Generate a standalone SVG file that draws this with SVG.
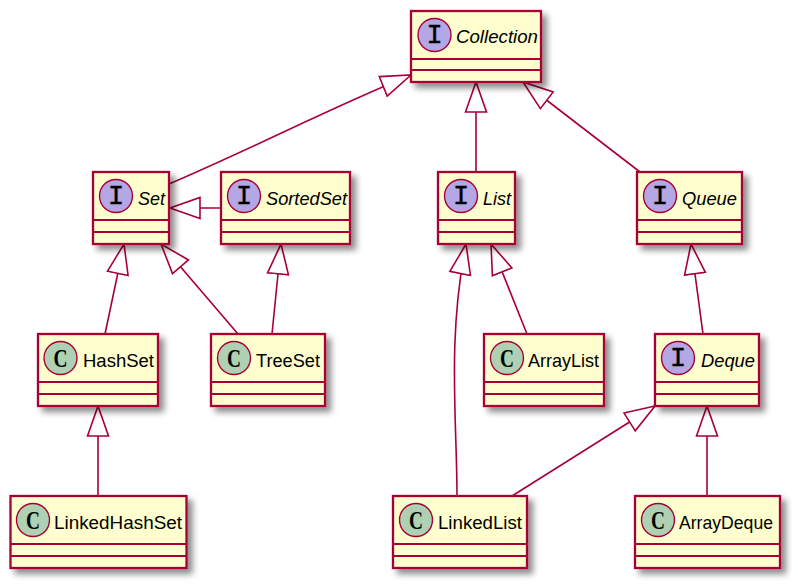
<svg xmlns="http://www.w3.org/2000/svg" width="798" height="588" viewBox="0 0 798 588">
<style>
.box{fill:#FEFECE;stroke:#A80036;stroke-width:2.3;filter:url(#sh)}
.div{stroke:#A80036;stroke-width:2;fill:none}
.ci{fill:#B4A7E5;stroke:#A80036;stroke-width:1.4}
.cc{fill:#ADD1B2;stroke:#A80036;stroke-width:1.4}
.gi{font-family:"Liberation Mono",monospace;font-size:27px;text-anchor:middle;fill:#000;stroke:#000;stroke-width:.4}
.gc{font-family:"Liberation Serif",serif;font-weight:bold;font-size:26px;fill:#000}
.t{font-family:"Liberation Sans",Arial,sans-serif;font-size:18.67px;fill:#000}
.it{font-style:italic}
.e{fill:none;stroke:#A80036;stroke-width:1.6;marker-end:url(#tri)}
</style>
<defs>
<filter id="sh" x="-20%" y="-20%" width="140%" height="140%"><feDropShadow dx="5" dy="5" stdDeviation="3" flood-color="#000" flood-opacity="0.45"/></filter>
<marker id="tri" markerUnits="userSpaceOnUse" markerWidth="34" markerHeight="26" refX="31" refY="12" orient="auto"><path d="M1,1.5 L31,12 L1,22.5 Z" fill="#fff" stroke="#A80036" stroke-width="1.6"/></marker>
</defs>
<g id="connectors">
<path class="e" d="M169,184 C260,145 330,108 411,75"/>
<path class="e" d="M476,172 L476,82"/>
<path class="e" d="M640,172 L523,82"/>
<path class="e" d="M221,208 L170,208"/>
<path class="e" d="M105,334 L124,244"/>
<path class="e" d="M238,334 L161,244"/>
<path class="e" d="M272,334 L281,244"/>
<path class="e" d="M457,496 C457,420 447,340 466,244"/>
<path class="e" d="M527,334 L491,244"/>
<path class="e" d="M703,334 L691,244"/>
<path class="e" d="M512,496 L655,406"/>
<path class="e" d="M707,496 L707,406"/>
<path class="e" d="M98,496 L98,406"/>
</g>
<g id="Collection"><rect class="box" x="411" y="11" width="130" height="71"/><path class="div" d="M411,59H541M411,70H541"/><circle class="ci" cx="434.500" cy="35" r="16.500"/><text class="gi" x="434.500" y="43">I</text><text class="t it" x="456" y="42.500" textLength="82" lengthAdjust="spacingAndGlyphs">Collection</text></g>
<g id="Set"><rect class="box" x="93" y="172" width="76" height="72"/><path class="div" d="M93,220H169M93,232H169"/><circle class="ci" cx="116" cy="196" r="16.500"/><text class="gi" x="116" y="204">I</text><text class="t it" x="138" y="204.500" textLength="27" lengthAdjust="spacingAndGlyphs">Set</text></g>
<g id="SortedSet"><rect class="box" x="221" y="172" width="129" height="72"/><path class="div" d="M221,220H350M221,232H350"/><circle class="ci" cx="244" cy="196" r="16.500"/><text class="gi" x="244" y="204">I</text><text class="t it" x="266" y="204.500" textLength="81" lengthAdjust="spacingAndGlyphs">SortedSet</text></g>
<g id="List"><rect class="box" x="438" y="172" width="77" height="72"/><path class="div" d="M438,220H515M438,232H515"/><circle class="ci" cx="461" cy="196" r="16.500"/><text class="gi" x="461" y="204">I</text><text class="t it" x="483" y="204.500" textLength="28" lengthAdjust="spacingAndGlyphs">List</text></g>
<g id="Queue"><rect class="box" x="637" y="172" width="105" height="72"/><path class="div" d="M637,220H742M637,232H742"/><circle class="ci" cx="660" cy="196" r="16.500"/><text class="gi" x="660" y="204">I</text><text class="t it" x="682" y="204.500" textLength="55" lengthAdjust="spacingAndGlyphs">Queue</text></g>
<g id="HashSet"><rect class="box" x="38" y="334" width="120" height="72"/><path class="div" d="M38,382H158M38,394H158"/><circle class="cc" cx="60.500" cy="358" r="16.500"/><text class="gc" x="60.500" y="366.500" text-anchor="middle" textLength="14" lengthAdjust="spacingAndGlyphs">C</text><text class="t" x="83" y="366.500" textLength="71" lengthAdjust="spacingAndGlyphs">HashSet</text></g>
<g id="TreeSet"><rect class="box" x="211" y="334" width="114" height="72"/><path class="div" d="M211,382H325M211,394H325"/><circle class="cc" cx="234" cy="358" r="16.500"/><text class="gc" x="234" y="366.500" text-anchor="middle" textLength="14" lengthAdjust="spacingAndGlyphs">C</text><text class="t" x="256" y="366.500" textLength="64" lengthAdjust="spacingAndGlyphs">TreeSet</text></g>
<g id="ArrayList"><rect class="box" x="484" y="334" width="120" height="72"/><path class="div" d="M484,382H604M484,394H604"/><circle class="cc" cx="507" cy="358" r="16.500"/><text class="gc" x="507" y="366.500" text-anchor="middle" textLength="14" lengthAdjust="spacingAndGlyphs">C</text><text class="t" x="528" y="366.500" textLength="71" lengthAdjust="spacingAndGlyphs">ArrayList</text></g>
<g id="Deque"><rect class="box" x="655" y="334" width="104" height="72"/><path class="div" d="M655,382H759M655,394H759"/><circle class="ci" cx="678" cy="358" r="16.500"/><text class="gi" x="678" y="366">I</text><text class="t it" x="701" y="366.500" textLength="54" lengthAdjust="spacingAndGlyphs">Deque</text></g>
<g id="LinkedHashSet"><rect class="box" x="10.500" y="496" width="176" height="72"/><path class="div" d="M10.500,544H186.500M10.500,556H186.500"/><circle class="cc" cx="33" cy="520" r="16.500"/><text class="gc" x="33" y="528.500" text-anchor="middle" textLength="14" lengthAdjust="spacingAndGlyphs">C</text><text class="t" x="54" y="528.500" textLength="128" lengthAdjust="spacingAndGlyphs">LinkedHashSet</text></g>
<g id="LinkedList"><rect class="box" x="393" y="496" width="134" height="72"/><path class="div" d="M393,544H527M393,556H527"/><circle class="cc" cx="416" cy="520" r="16.500"/><text class="gc" x="416" y="528.500" text-anchor="middle" textLength="14" lengthAdjust="spacingAndGlyphs">C</text><text class="t" x="438" y="528.500" textLength="84" lengthAdjust="spacingAndGlyphs">LinkedList</text></g>
<g id="ArrayDeque"><rect class="box" x="635" y="496" width="145" height="72"/><path class="div" d="M635,544H780M635,556H780"/><circle class="cc" cx="658" cy="520" r="16.500"/><text class="gc" x="658" y="528.500" text-anchor="middle" textLength="14" lengthAdjust="spacingAndGlyphs">C</text><text class="t" x="679" y="528.500" textLength="94" lengthAdjust="spacingAndGlyphs">ArrayDeque</text></g>
</svg>
